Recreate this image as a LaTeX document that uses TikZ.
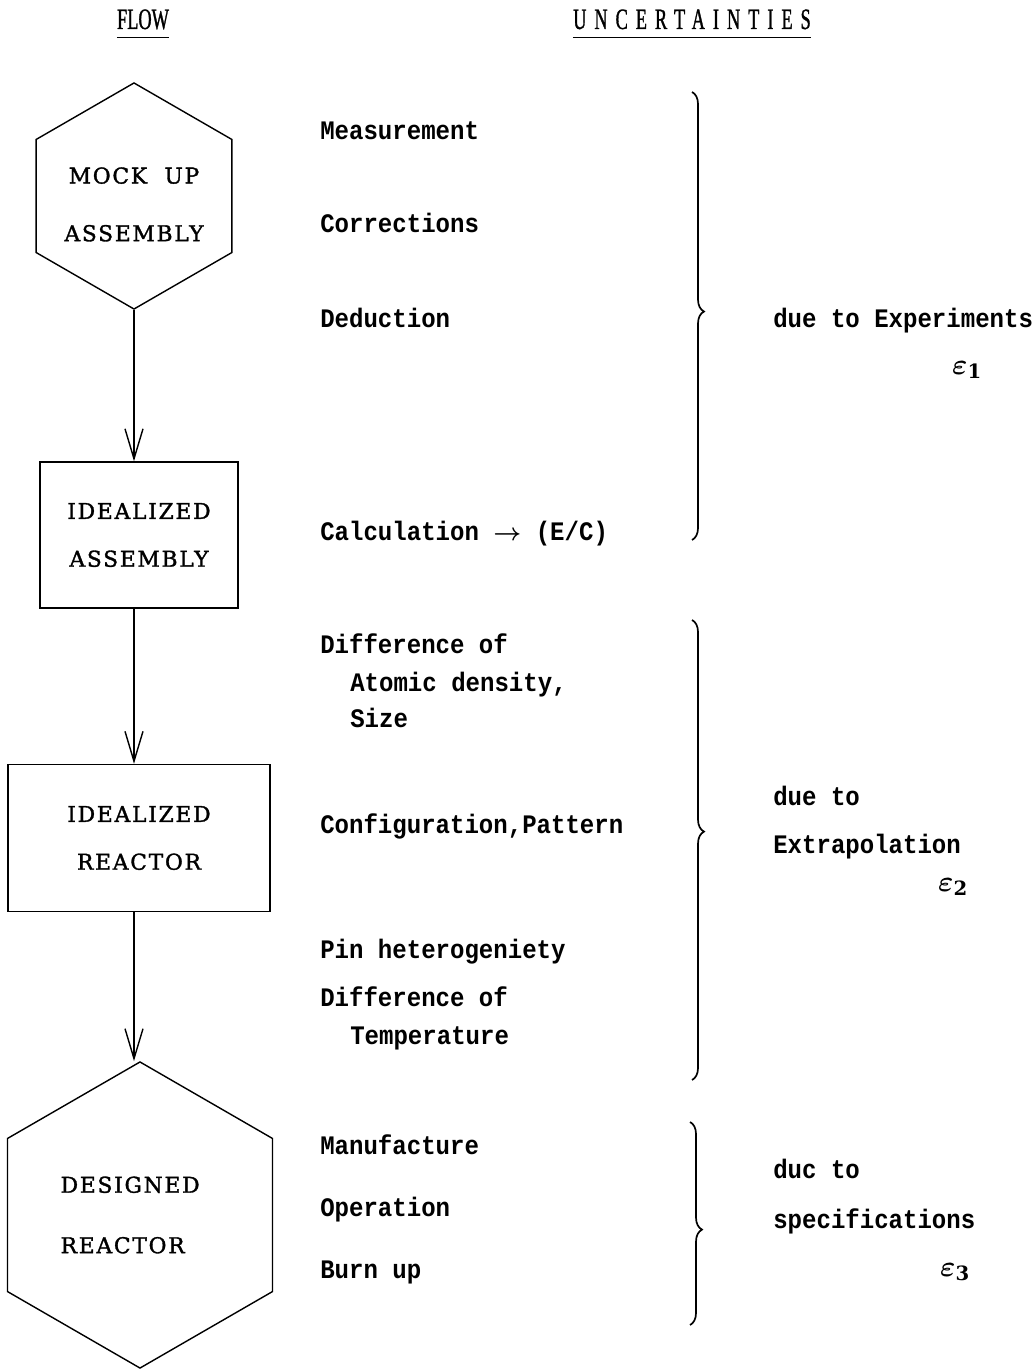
\documentclass[tikz,border=0pt]{standalone}
\usepackage{amsmath}
\usepackage{fontspec}
\setmainfont{DejaVu Serif}
\newfontfamily\boxfont[LetterSpace=8,FakeBold=1.5]{DejaVu Serif}
\newfontfamily\typefont[FakeStretch=0.9]{Liberation Mono}
\newfontfamily\headfont[FakeStretch=0.62,FakeBold=1]{Liberation Serif}
\newfontfamily\headwide[FakeStretch=0.62,FakeBold=1,LetterSpace=27]{Liberation Serif}
\usetikzlibrary{shapes.geometric,arrows.meta,decorations.pathreplacing}

\tikzset{
  flowline/.style={line width=1pt},
  hexbox/.style={draw, flowline, regular polygon, regular polygon sides=6,
    shape border rotate=30, inner sep=0pt},
  rectbox/.style={draw, flowline, inner sep=0pt, align=center,
    font={\boxfont\fontsize{15.5}{34}\selectfont}},
  boxlabel/.style={inner sep=0pt,
    font={\boxfont\fontsize{15.5}{34}\selectfont}},
  flowarrow/.style={flowline, -{Straight Barb[length=0.75cm,width=0.45cm,line width=1pt]}},
  listtext/.style={anchor=base west, inner sep=0pt,
    font={\typefont\bfseries\fontsize{19}{22}\selectfont}},
  epslabel/.style={inner sep=0pt, font={\fontsize{20}{24}\selectfont}},
  headtext/.style={anchor=base, inner sep=0pt,
    font={\headfont\fontsize{21}{24}\selectfont}},
  uncbrace/.style={line width=1.2pt, decorate, decoration={brace, amplitude=0.3cm}},
}

\begin{document}
\begin{tikzpicture}[x=0.025cm,y=-0.025cm]
\useasboundingbox (0,0) rectangle (1035,1371);

\node[headtext] (flow) at (143,29) {FLOW};
\node[headtext] (unctitle) at (692,29) {\headwide UNCERTAINTIES};
\draw[line width=1pt] ([yshift=-6pt]flow.base west) -- ([yshift=-6pt]flow.base east);
\draw[line width=1pt] ([yshift=-6pt]unctitle.base west) -- ([yshift=-6pt]unctitle.base east);

\node[hexbox, minimum size=5.65cm] (mock) at (134,196) {};
\node[boxlabel, align=center] (mocktxt) at ([yshift=-6pt]mock.center) {MOCK\ \ UP\\[7pt]ASSEMBLY};
\node[rectbox, minimum width=4.95cm, minimum height=3.65cm] (idasm) at (139,535) {IDEALIZED\\ASSEMBLY};
\node[rectbox, minimum width=6.55cm, minimum height=3.675cm] (idrct) at (139,838) {IDEALIZED\\REACTOR};
\node[hexbox, minimum size=7.65cm] (desgn) at (140,1215) {};
\node[boxlabel, align=left] (desgntxt) at ([xshift=-7pt]desgn.center) {DESIGNED\\[9pt]REACTOR};

\draw[flowarrow] (mock.south) -- (idasm.north -| mock.south);
\draw[flowarrow] (idasm.south -| mock.south) -- (idrct.north -| mock.south);
\draw[flowarrow] (idrct.south -| mock.south) -- (desgn.north -| mock.south);

\node[listtext] (meas) at (320,140) {Measurement};
\node[listtext] (corr) at (320,233) {Corrections};
\node[listtext] (dedu) at (320,328) {Deduction};
\node[listtext] (calc) at (320,540) {Calculation $\boldsymbol{\rightarrow}$ (E/C)};

\node[listtext] (diffa) at (320,653) {Difference of};
\node[listtext] (atom) at (350,691) {Atomic density,};
\node[listtext] (size) at (350,727) {Size};
\node[listtext] (conf) at (320,833) {Configuration,Pattern};
\node[listtext] (pin) at (320,958) {Pin heterogeniety};
\node[listtext] (diffb) at (320,1006) {Difference of};
\node[listtext] (temp) at (350,1044) {Temperature};

\node[listtext] (manu) at (320,1154) {Manufacture};
\node[listtext] (oper) at (320,1216) {Operation};
\node[listtext] (burn) at (320,1278) {Burn up};

\coordinate (e1t) at (692,92);
\coordinate (e1b) at (692,540);
\coordinate (e2t) at (692,620);
\coordinate (e2b) at (692,1080);
\coordinate (e3t) at (690,1122);
\coordinate (e3b) at (690,1325);
\draw[uncbrace, decoration={aspect=0.49}] (e1t) -- (e1b);
\draw[uncbrace, decoration={aspect=0.46}] (e2t) -- (e2b);
\draw[uncbrace, decoration={aspect=0.53}] (e3t) -- (e3b);

\node[listtext] (expt) at (773,328) {due to Experiments};
\node[epslabel] (eps1) at (967,370) {$\boldsymbol{\varepsilon}_{\mathbf{1}}$};
\node[listtext] (due2) at (773,805) {due to};
\node[listtext] (extr) at (773,853) {Extrapolation};
\node[epslabel] (eps2) at (953,887) {$\boldsymbol{\varepsilon}_{\mathbf{2}}$};
\node[listtext] (due3) at (773,1178) {duc to};
\node[listtext] (spec) at (773,1228) {specifications};
\node[epslabel] (eps3) at (955,1272) {$\boldsymbol{\varepsilon}_{\mathbf{3}}$};
\end{tikzpicture}
\end{document}
